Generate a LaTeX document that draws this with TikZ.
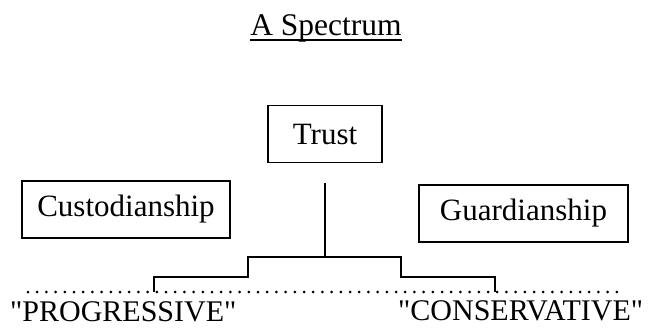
\documentclass[tikz,border=0pt]{standalone}
\usepackage{fontspec}
\setmainfont{Liberation Serif}[Ligatures = TeXOff]
\tikzset{
  box/.style = {draw, line width = 1.7pt, inner sep = 0pt, minimum height = 57pt, font = \fontsize{31}{36}\selectfont},
  word/.style = {inner sep = 0pt, anchor = base west, font = \fontsize{30}{36}\selectfont},
  spectrum/.style = {line width = 3pt, line cap = round, dash pattern = on 0pt off 9.2pt}
}
\begin{document}
\begin{tikzpicture}[x = 1pt, y = 1pt]
\useasboundingbox (0, 0) rectangle (655, 333);
\node[inner sep = 0pt, anchor = base, font = \fontsize{31.5}{36}\selectfont] (title) at (326, 298) {A Spectrum};
\draw[line width = 2pt] ([yshift = -4.5pt]title.base west) -- ([yshift = -4.5pt]title.base east);
\node[box, minimum width = 114pt] (trust) at (325, 199) {Trust};
\node[box, minimum width = 208pt] (custody) at (126, 123.5) {Custodianship};
\node[box, minimum width = 209pt] (guard) at (523.5, 119.5) {Guardianship};
\coordinate (stem) at ([yshift = -20pt]trust.south);
\coordinate (top) at (325, 76);
\coordinate (lo) at (28, 41);
\coordinate (hi) at (618, 41);
\coordinate (prog) at (154, 41);
\coordinate (cons) at (495, 41);
\draw[spectrum] (lo) -- (hi);
\draw[line width = 1.8pt] (stem) -- (top) -- (248, 76) -- (248, 56) -| (prog);
\draw[line width = 1.8pt] (top) -- (401, 76) -- (401, 56) -| (cons);
\node[word] (progressive) at (10, 12) {"PROGRESSIVE"};
\node[word] (conservative) at (398, 13) {"CONSERVATIVE"};
\end{tikzpicture}
\end{document}
